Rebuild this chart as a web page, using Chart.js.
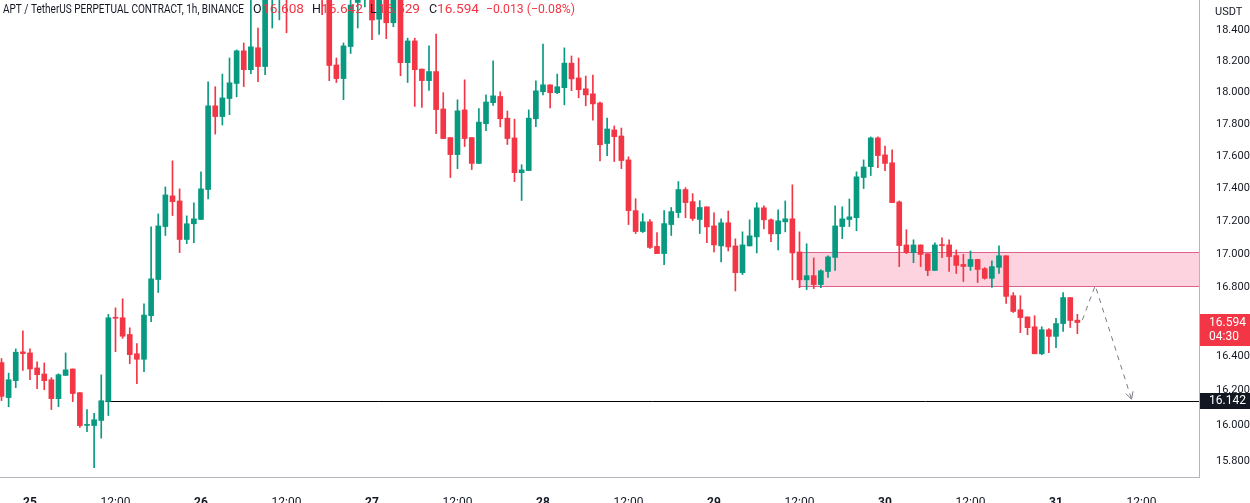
<!DOCTYPE html>
<html>
<head>
<meta charset="utf-8">
<script src="https://cdn.jsdelivr.net/npm/chart.js@4.4.0/dist/chart.umd.min.js"></script>
<style>
html,body{margin:0;padding:0;background:#fff;}
#contenedor{width:1250px;height:503px;position:relative;}
</style>
</head>
<body>
<div id="contenedor"><canvas id="graficoVelas"></canvas></div>
<script>
// first candle is the 24th 20:00, x value = hours from the 25th 00:00
var primeraHora = -4;

var aperturas = [16.361, 16.160, 16.257, 16.423,
    16.417, 16.330, 16.295, 16.262, 16.154, 16.287, 16.324, 16.188, 16.002, 16.001,
    16.030, 16.138, 16.622, 16.622, 16.524, 16.412, 16.380, 16.634, 16.848, 17.166,
    17.353, 17.322, 17.088, 17.183, 17.209, 17.392, 17.914, 17.846, 17.960, 18.056,
    18.265, 18.144, 18.285, 18.164, 18.63, 18.68, 18.72, 18.66, 18.79, 18.84,
    18.73, 18.76, 18.62, 18.174, 18.087, 18.293, 18.58, 18.66, 18.70, 18.470,
    18.62, 18.447, 18.61, 18.189, 18.329, 18.148, 18.074, 18.132, 17.894, 17.714,
    17.608, 17.888, 17.714, 17.553, 17.801, 17.934, 17.973, 17.836, 17.712, 17.496,
    17.509, 17.832, 18.003, 18.047, 17.997, 18.029, 18.186, 18.091, 18.022, 17.990,
    17.932, 17.677, 17.762, 17.724, 17.575, 17.263, 17.136, 17.195, 17.046, 17.003,
    17.178, 17.251, 17.392, 17.318, 17.209, 17.286, 17.170, 17.049, 17.189, 17.049,
    16.889, 17.049, 17.104, 17.280, 17.207, 17.122, 17.195, 17.213, 17.013, 16.846,
    16.871, 16.818, 16.896, 16.980, 17.166, 17.209, 17.220, 17.466, 17.533, 17.712,
    17.606, 17.557, 17.316, 17.055, 17.009, 17.055, 17.002, 16.902, 17.055, 17.055,
    16.991, 16.938, 16.926, 16.968, 16.913, 16.855, 16.921, 16.990, 16.752, 16.669,
    16.627, 16.569, 16.412, 16.552, 16.513, 16.588, 16.741, 16.608];

var maximos = [16.384, 16.300, 16.440, 16.546,
    16.440, 16.365, 16.359, 16.274, 16.296, 16.417, 16.324, 16.188, 16.092, 16.070,
    16.290, 16.642, 16.680, 16.734, 16.563, 16.471, 16.704, 17.164, 17.243, 17.408,
    17.569, 17.396, 17.231, 17.311, 17.501, 18.066, 18.035, 18.116, 18.219, 18.271,
    18.316, 18.65, 18.413, 18.68, 18.72, 18.76, 18.78, 18.85, 18.92, 18.90,
    18.82, 18.80, 18.66, 18.219, 18.316, 18.62, 18.70, 18.74, 18.76, 18.66,
    18.66, 18.65, 18.66, 18.347, 18.347, 18.148, 18.297, 18.374, 17.997, 17.714,
    17.952, 18.079, 17.714, 17.896, 17.983, 18.200, 18.003, 17.881, 17.830, 17.545,
    17.888, 18.073, 18.309, 18.047, 18.116, 18.284, 18.232, 18.219, 18.103, 18.109,
    17.938, 17.836, 17.787, 17.774, 17.594, 17.336, 17.245, 17.209, 17.130, 17.263,
    17.282, 17.441, 17.404, 17.367, 17.324, 17.286, 17.249, 17.213, 17.261, 17.092,
    17.134, 17.207, 17.311, 17.292, 17.213, 17.268, 17.322, 17.421, 17.134, 17.062,
    16.977, 16.906, 16.990, 17.292, 17.286, 17.334, 17.501, 17.575, 17.718, 17.718,
    17.661, 17.637, 17.322, 17.147, 17.086, 17.055, 17.002, 17.068, 17.098, 17.086,
    17.025, 16.998, 17.019, 16.968, 16.919, 16.960, 17.049, 16.990, 16.770, 16.752,
    16.627, 16.634, 16.569, 16.558, 16.618, 16.770, 16.741, 16.642];

var minimos = [16.143, 16.108, 16.217, 16.315,
    16.262, 16.211, 16.205, 16.092, 16.108, 16.287, 16.137, 15.990, 15.967, 15.765,
    15.930, 16.058, 16.424, 16.502, 16.355, 16.240, 16.309, 16.599, 16.771, 17.112,
    17.233, 17.009, 17.063, 17.069, 17.209, 17.334, 17.736, 17.793, 17.858, 17.971,
    18.036, 18.118, 18.068, 18.112, 18.413, 18.466, 18.382, 18.61, 18.72, 18.69,
    18.63, 18.50, 18.074, 18.062, 17.953, 18.248, 18.413, 18.55, 18.337, 18.372,
    18.344, 18.421, 18.105, 18.062, 17.910, 17.904, 18.012, 17.739, 17.708, 17.466,
    17.521, 17.658, 17.515, 17.553, 17.758, 17.916, 17.782, 17.671, 17.441, 17.325,
    17.509, 17.782, 17.983, 17.900, 17.991, 17.920, 18.010, 17.965, 17.914, 17.824,
    17.569, 17.602, 17.565, 17.521, 17.178, 17.124, 17.130, 17.034, 17.003, 16.937,
    17.112, 17.220, 17.220, 17.203, 17.124, 17.068, 17.013, 16.953, 17.019, 16.780,
    16.877, 17.049, 17.007, 17.152, 17.074, 17.025, 17.134, 16.846, 16.799, 16.788,
    16.794, 16.800, 16.860, 16.902, 17.093, 17.166, 17.141, 17.398, 17.478, 17.527,
    17.509, 17.312, 16.925, 17.003, 16.948, 16.925, 16.871, 16.902, 16.979, 16.896,
    16.884, 16.836, 16.902, 16.830, 16.850, 16.801, 16.884, 16.706, 16.653, 16.535,
    16.523, 16.412, 16.406, 16.418, 16.448, 16.542, 16.565, 16.529];

var cierres = [16.167, 16.262, 16.421, 16.413,
    16.324, 16.291, 16.257, 16.154, 16.291, 16.319, 16.183, 16.001, 16.004, 16.034,
    16.142, 16.622, 16.619, 16.514, 16.407, 16.380, 16.638, 16.852, 17.170, 17.359,
    17.318, 17.088, 17.183, 17.213, 17.396, 17.914, 17.846, 17.964, 18.060, 18.265,
    18.144, 18.291, 18.164, 18.63, 18.68, 18.72, 18.66, 18.79, 18.84, 18.73,
    18.76, 18.62, 18.171, 18.087, 18.297, 18.563, 18.66, 18.70, 18.465, 18.62,
    18.447, 18.61, 18.189, 18.329, 18.144, 18.074, 18.132, 17.890, 17.708, 17.608,
    17.882, 17.708, 17.553, 17.811, 17.938, 17.977, 17.832, 17.708, 17.496, 17.513,
    17.836, 18.009, 18.047, 17.997, 18.035, 18.186, 18.085, 18.016, 17.983, 17.926,
    17.669, 17.768, 17.720, 17.571, 17.263, 17.136, 17.195, 17.040, 17.003, 17.184,
    17.257, 17.392, 17.312, 17.215, 17.282, 17.164, 17.055, 17.189, 17.043, 16.889,
    17.055, 17.110, 17.280, 17.207, 17.122, 17.201, 17.213, 17.007, 16.846, 16.871,
    16.818, 16.900, 16.983, 17.170, 17.213, 17.225, 17.470, 17.531, 17.712, 17.602,
    17.553, 17.312, 17.051, 17.009, 17.055, 16.998, 16.902, 17.055, 17.051, 16.985,
    16.932, 16.926, 16.968, 16.908, 16.855, 16.925, 16.990, 16.748, 16.659, 16.623,
    16.564, 16.412, 16.552, 16.513, 16.588, 16.741, 16.606, 16.594];

var etiquetasX = ['25', '12:00', '26', '12:00', '27', '12:00', '28', '12:00', '29', '12:00', '30', '12:00', '31', '12:00'];
var valoresY = [15.8, 16.0, 16.2, 16.4, 16.6, 16.8, 17.0, 17.2, 17.4, 17.6, 17.8, 18.0, 18.2, 18.4];

// supply zone and support level
var zonaArriba = 17.013;
var zonaAbajo = 16.811;
var zonaInicio = 108;
var nivelSoporte = 16.142;
var nivelInicio = 10.6;

// projected path (dashed)
var proyeccionX = [147.7, 149.5, 154.6];
var proyeccionY = [16.609, 16.812, 16.151];

var titulo = 'APT / TetherUS PERPETUAL CONTRACT, 1h, BINANCE';
var ohlc = [['O', '16.608'], ['H', '16.642'], ['L', '16.529'], ['C', '16.594']];
var cambio = '\u22120.013 (\u22120.08%)';
var ultimoPrecio = 16.594;
var cuentaAtras = '04:30';

var verde = '#089981';
var rojo = '#f23645';
var oscuro = '#131722';
var fuente = 'Roboto, "Noto Sans", sans-serif';

// draws a text fitted to a width
function texto(ctx, t, x, y, ancho){
    var sx = ancho / ctx.measureText(t).width;
    ctx.save();
    ctx.translate(x, y);
    ctx.scale(sx, 1);
    ctx.fillText(t, 0, 0);
    ctx.restore();
}

function crearGrafico(){
    var mechas = [];
    var cuerpos = [];
    var colores = [];
    for (var i = 0; i < aperturas.length; i++) {
        colores.push(cierres[i] >= aperturas[i] ? verde : rojo);
        mechas.push({x: primeraHora + i, y: [minimos[i], maximos[i]]});
        cuerpos.push({x: primeraHora + i, y: [aperturas[i], cierres[i]]});
    }
    var proyeccion = [];
    for (var k = 0; k < proyeccionX.length; k++) {
        proyeccion.push({x: proyeccionX[k], y: proyeccionY[k]});
    }

    var dibujos = {
        id: 'dibujos',
        beforeDatasetsDraw: function(chart){
            var ctx = chart.ctx, a = chart.chartArea;
            var x = chart.scales.x, y = chart.scales.y;
            ctx.save();
            var x0 = x.getPixelForValue(zonaInicio);
            var y0 = Math.round(y.getPixelForValue(zonaArriba)) + 0.5;
            var y1 = Math.round(y.getPixelForValue(zonaAbajo)) + 0.5;
            ctx.fillStyle = 'rgba(242, 54, 110, 0.22)';
            ctx.fillRect(x0, y0, a.right - x0, y1 - y0);
            ctx.strokeStyle = 'rgba(220, 80, 130, 0.9)';
            ctx.lineWidth = 1;
            ctx.beginPath();
            ctx.moveTo(x0, y0); ctx.lineTo(a.right, y0);
            ctx.moveTo(x0, y1); ctx.lineTo(a.right, y1);
            ctx.moveTo(x0 + 0.5, y0); ctx.lineTo(x0 + 0.5, y1);
            ctx.stroke();
            var yn = Math.round(y.getPixelForValue(nivelSoporte)) + 0.5;
            ctx.strokeStyle = '#000';
            ctx.beginPath();
            ctx.moveTo(x.getPixelForValue(nivelInicio), yn);
            ctx.lineTo(a.right, yn);
            ctx.stroke();
            ctx.restore();
        },
        afterDraw: function(chart){
            var ctx = chart.ctx, a = chart.chartArea;
            var x = chart.scales.x, y = chart.scales.y;
            ctx.save();
            // arrow head
            var n = proyeccionX.length - 1;
            var px = x.getPixelForValue(proyeccionX[n]), py = y.getPixelForValue(proyeccionY[n]);
            var qx = x.getPixelForValue(proyeccionX[n - 1]), qy = y.getPixelForValue(proyeccionY[n - 1]);
            var ang = Math.atan2(py - qy, px - qx);
            ctx.strokeStyle = '#787b86';
            ctx.lineWidth = 1;
            ctx.beginPath();
            ctx.moveTo(px - 8 * Math.cos(ang - 0.5), py - 8 * Math.sin(ang - 0.5));
            ctx.lineTo(px, py);
            ctx.lineTo(px - 8 * Math.cos(ang + 0.5), py - 8 * Math.sin(ang + 0.5));
            ctx.stroke();

            // header, placed like the original legend
            ctx.font = '12.5px ' + fuente;
            ctx.textBaseline = 'middle';
            var cy = 10;
            var posLetra = [253, 312, 370, 429];
            var posValor = [262, 321, 378, 437];
            ctx.fillStyle = oscuro;
            texto(ctx, titulo, 3, cy, 241);
            for (var i = 0; i < ohlc.length; i++) {
                ctx.fillStyle = oscuro;
                ctx.fillText(ohlc[i][0], posLetra[i], cy);
                ctx.fillStyle = rojo;
                texto(ctx, ohlc[i][1], posValor[i], cy, 42);
            }
            texto(ctx, cambio, 486, cy, 89);

            // axis boxes
            var ax = a.right + 1;
            ctx.font = '12px ' + fuente;
            ctx.textAlign = 'left';
            var yp = Math.round(y.getPixelForValue(ultimoPrecio));
            ctx.fillStyle = rojo;
            ctx.fillRect(ax, yp - 9, 51, 32);
            ctx.fillStyle = '#fff';
            ctx.fillText(ultimoPrecio.toFixed(3), ax + 9, yp);
            ctx.fillText(cuentaAtras, ax + 9, yp + 14);
            var ys = Math.round(y.getPixelForValue(nivelSoporte));
            ctx.fillStyle = oscuro;
            ctx.fillRect(ax, ys - 8, 51, 16);
            ctx.fillStyle = '#fff';
            ctx.fillText(nivelSoporte.toFixed(3), ax + 9, ys);
            ctx.fillStyle = oscuro;
            ctx.font = '11px ' + fuente;
            ctx.fillText('USDT', ax + 15, 12);
            ctx.restore();
        }
    };

    var ctx = document.getElementById('graficoVelas');
    var myChart = new Chart(ctx, {
        type: 'bar',
        data: {
            datasets: [{
                label: 'mechas',
                data: mechas,
                backgroundColor: colores,
                barThickness: 1,
                grouped: false,
                order: 2
            }, {
                label: 'cuerpos',
                data: cuerpos,
                backgroundColor: colores,
                barThickness: 5,
                minBarLength: 1,
                grouped: false,
                order: 1
            }, {
                type: 'line',
                label: 'proyeccion',
                data: proyeccion,
                borderColor: '#787b86',
                borderWidth: 1,
                borderDash: [5, 5],
                pointRadius: 0,
                fill: false,
                order: 0
            }]
        },
        options: {
            responsive: true,
            maintainAspectRatio: false,
            animation: false,
            devicePixelRatio: 1,
            layout: {padding: 0},
            plugins: {legend: {display: false}, tooltip: {enabled: false}},
            scales: {
                x: {
                    type: 'linear',
                    min: -4.21,
                    max: 164.07,
                    offset: false,
                    grid: {display: false},
                    border: {display: true, color: '#b2b5be'},
                    afterBuildTicks: function(eje){
                        eje.ticks = etiquetasX.map(function(t, k){ return {value: k * 12}; });
                    },
                    afterFit: function(eje){
                        eje.height = 26;
                        eje.paddingLeft = 0;
                        eje.paddingRight = 0;
                    },
                    ticks: {
                        autoSkip: false,
                        maxRotation: 0,
                        padding: 11,
                        color: oscuro,
                        font: function(c){
                            return {family: fuente, size: 12, weight: (c.index % 2 === 0) ? 'bold' : 'normal'};
                        },
                        callback: function(v, i){ return etiquetasX[i]; }
                    }
                },
                y: {
                    type: 'logarithmic',
                    position: 'right',
                    min: 15.713,
                    max: 18.596,
                    grid: {display: false},
                    border: {display: true, color: '#b2b5be'},
                    afterBuildTicks: function(eje){
                        eje.ticks = valoresY.map(function(v){ return {value: v}; });
                    },
                    afterFit: function(eje){
                        eje.width = 51;
                        eje.paddingTop = 0;
                        eje.paddingBottom = 0;
                    },
                    ticks: {
                        padding: 9,
                        color: oscuro,
                        font: {family: fuente, size: 11},
                        callback: function(v){ return Number(v).toFixed(3); }
                    }
                }
            }
        },
        plugins: [dibujos]
    });
}
crearGrafico();
</script>
</body>
</html>
